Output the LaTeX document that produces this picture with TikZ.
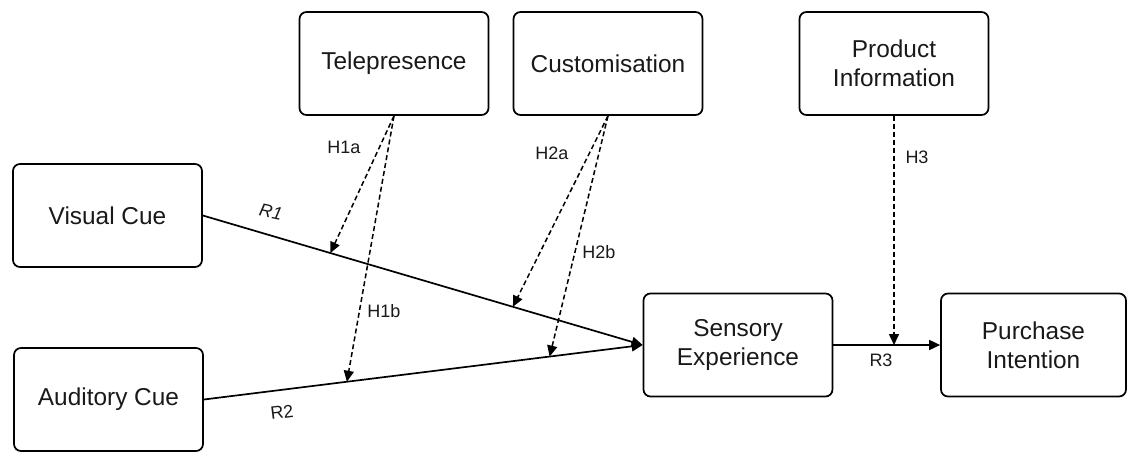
\documentclass[tikz,border=0pt]{standalone}
\usepackage{fontspec}
\setmainfont{Liberation Sans}
\usetikzlibrary{arrows.meta,calc}
\begin{document}
\begin{tikzpicture}[x=1pt,y=-1pt,
  box/.style={draw, line width=1.7pt, rounded corners=7pt, minimum width=189pt,
    minimum height=103pt, align=center, inner sep=0pt,
    font=\fontsize{24.4}{29}\selectfont, text=black!90},
  link/.style={line width=1.7pt, -{Triangle[length=11pt,width=10pt]}},
  mod/.style={line width=1.5pt, dash pattern=on 5pt off 3pt,
    -{Triangle[length=11pt,width=10pt]}},
  lab/.style={font=\fontsize{18}{21}\selectfont, text=black!90, inner sep=0pt}]
\useasboundingbox (0,0) rectangle (1128,451);

% constructs
\node[box] (tel) at (394,63.5) {Telepresence};
\node[box] (cus) at (608,63.5) {Customisation};
\node[box] (pin) at (894,63.5) {Product\\Information};
\node[box] (vis) at (107.5,215.5) {Visual Cue};
\node[box] (aud) at (108.5,399.5) {Auditory Cue};
\node[box] (sen) at (738,345) {Sensory\\Experience};
\node[box, minimum width=185pt] (pur) at (1033.5,345) {Purchase\\Intention};

% direct paths
\draw[link] (vis.east) -- (sen.west);
\draw[link] (aud.east) -- (sen.west);
\draw[link] (sen.east) -- (pur.west);

% moderating paths
\draw[mod] (tel.south) -- ($(vis.east)!0.29!(sen.west)$);
\draw[mod] (tel.south) -- ($(aud.east)!0.326!(sen.west)$);
\draw[mod] (cus.south) -- ($(vis.east)!0.705!(sen.west)$);
\draw[mod] (cus.south) -- ($(aud.east)!0.788!(sen.west)$);
\draw[mod] (pin.south) -- (pin.south |- sen.east);

% path labels
\node[lab] (h1a) at (344,147) {H1a};
\node[lab] (h1b) at (384,311) {H1b};
\node[lab] (h2a) at (552,153) {H2a};
\node[lab] (h2b) at (599,252) {H2b};
\node[lab] (h3) at (917,157) {H3};
\node[lab, rotate=-12, font=\fontsize{18}{21}\selectfont\itshape] (r1) at (271,212) {R1};
\node[lab, rotate=7] (r2) at (282,412) {R2};
\node[lab] (r3) at (881,360) {R3};
\end{tikzpicture}
\end{document}
